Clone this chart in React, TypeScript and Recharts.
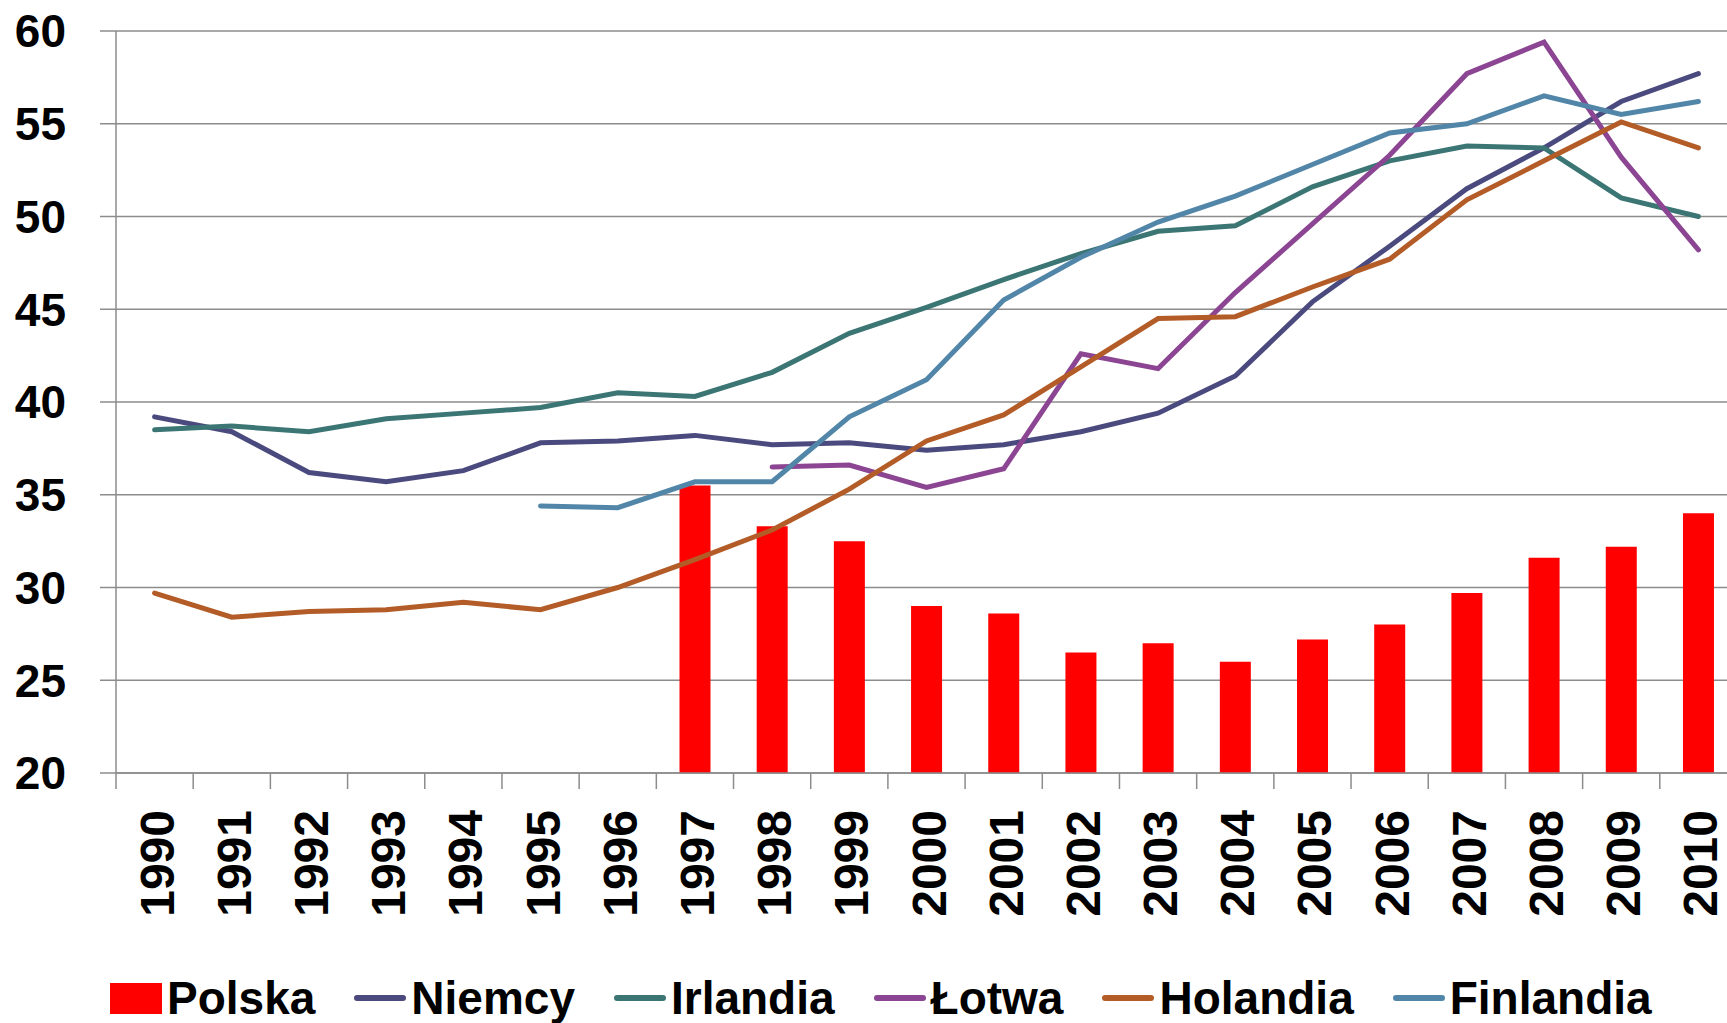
import { ComposedChart, Bar, Line, XAxis, YAxis, CartesianGrid, Legend } from "recharts";

const years = [
  "1990", "1991", "1992", "1993", "1994", "1995", "1996", "1997", "1998", "1999", "2000",
  "2001", "2002", "2003", "2004", "2005", "2006", "2007", "2008", "2009", "2010",
];

const polska = [
  null, null, null, null, null, null, null, 35.5, 33.3, 32.5, 29.0,
  28.6, 26.5, 27.0, 26.0, 27.2, 28.0, 29.7, 31.6, 32.2, 34.0,
];
const niemcy = [
  39.2, 38.4, 36.2, 35.7, 36.3, 37.8, 37.9, 38.2, 37.7, 37.8, 37.4,
  37.7, 38.4, 39.4, 41.4, 45.4, 48.4, 51.5, 53.7, 56.2, 57.7,
];
const irlandia = [
  38.5, 38.7, 38.4, 39.1, 39.4, 39.7, 40.5, 40.3, 41.6, 43.7, 45.1,
  46.6, 48.0, 49.2, 49.5, 51.6, 53.0, 53.8, 53.7, 51.0, 50.0,
];
const lotwa = [
  null, null, null, null, null, null, null, null, 36.5, 36.6, 35.4,
  36.4, 42.6, 41.8, 45.9, 49.6, 53.3, 57.7, 59.4, 53.2, 48.2,
];
const holandia = [
  29.7, 28.4, 28.7, 28.8, 29.2, 28.8, 30.0, 31.5, 33.1, 35.3, 37.9,
  39.3, 41.9, 44.5, 44.6, 46.2, 47.7, 50.9, 53.0, 55.1, 53.7,
];
const finlandia = [
  null, null, null, null, null, 34.4, 34.3, 35.7, 35.7, 39.2, 41.2,
  45.5, 47.8, 49.7, 51.1, 52.8, 54.5, 55.0, 56.5, 55.5, 56.2,
];

const yTicks = [20, 25, 30, 35, 40, 45, 50, 55, 60];
const seriesOrder = ["Polska", "Niemcy", "Irlandia", "Łotwa", "Holandia", "Finlandia"];

const data = years.map((year, i) => ({
  year,
  polska: polska[i],
  niemcy: niemcy[i],
  irlandia: irlandia[i],
  lotwa: lotwa[i],
  holandia: holandia[i],
  finlandia: finlandia[i],
}));

const FONT = '"Liberation Sans", Arial, sans-serif';
const GRID = "#8c8c8c";
const LINE_W = 5;

function YearTick(props: any) {
  const { x, y, payload } = props;
  const half = payload?.offset ?? 0;
  const ty = y + 37;
  return (
    <g>
      <line x1={x - half} x2={x - half} y1={y} y2={y + 16} stroke={GRID} strokeWidth={1.5} />
      <text
        x={x}
        y={ty}
        dy={19}
        transform={`rotate(-90 ${x} ${ty})`}
        textAnchor="end"
        fontFamily={FONT}
        fontWeight="bold"
        fontSize={48}
        fill="#000"
      >
        {payload.value}
      </text>
    </g>
  );
}

function LegendContent(props: any) {
  const items = [...(props.payload ?? [])].sort(
    (a: any, b: any) => seriesOrder.indexOf(a.value) - seriesOrder.indexOf(b.value)
  );
  return (
    <div
      style={{
        height: 100,
        boxSizing: "border-box",
        paddingTop: 50,
        paddingLeft: 110,
        display: "flex",
        alignItems: "center",
        fontFamily: FONT,
        fontWeight: "bold",
        fontSize: 46,
        lineHeight: "50px",
        whiteSpace: "nowrap",
      }}
    >
      {items.map((it: any) => (
        <div key={it.value} style={{ display: "flex", alignItems: "center", marginRight: 39 }}>
          {it.type === "line" ? (
            <div style={{ width: 52, height: 6, borderRadius: 3, background: it.color, flex: "none" }} />
          ) : (
            <div style={{ width: 52, height: 31, background: it.color, flex: "none" }} />
          )}
          <span style={{ marginLeft: 5, color: "#000" }}>{it.value}</span>
        </div>
      ))}
    </div>
  );
}

export default function App() {
  return (
    <div
      style={{
        position: "fixed",
        left: 0,
        top: 0,
        width: 1727,
        height: 1023,
        overflow: "hidden",
        background: "#fff",
        fontFamily: FONT,
      }}
    >
      <ComposedChart
        width={1737}
        height={1023}
        data={data}
        margin={{ top: 31, right: 0, left: 0, bottom: 0 }}
        barCategoryGap="30%"
      >
        <CartesianGrid vertical={false} stroke={GRID} strokeWidth={1.5} />
        <XAxis
          dataKey="year"
          height={150}
          axisLine={{ stroke: GRID, strokeWidth: 1.5 }}
          tickLine={false}
          tickSize={0}
          tickMargin={0}
          interval={0}
          tick={<YearTick />}
        />
        <YAxis
          width={116}
          domain={[20, 60]}
          ticks={yTicks}
          interval={0}
          axisLine={{ stroke: GRID, strokeWidth: 1.5 }}
          tickLine={{ stroke: GRID, strokeWidth: 1.5 }}
          tickSize={16}
          tickMargin={34}
          tick={{ fontFamily: FONT, fontWeight: "bold", fontSize: 46, fill: "#000" }}
        />
        <Legend verticalAlign="bottom" align="left" content={<LegendContent />} />
        <Bar dataKey="polska" name="Polska" fill="#ff0000" isAnimationActive={false} />
        <Line type="linear" dataKey="niemcy" name="Niemcy" stroke="#4b4a7e" strokeWidth={LINE_W} strokeLinecap="round" dot={false} activeDot={false} isAnimationActive={false} />
        <Line type="linear" dataKey="irlandia" name="Irlandia" stroke="#3b7674" strokeWidth={LINE_W} strokeLinecap="round" dot={false} activeDot={false} isAnimationActive={false} />
        <Line type="linear" dataKey="lotwa" name="Łotwa" stroke="#8c4592" strokeWidth={LINE_W} strokeLinecap="round" dot={false} activeDot={false} isAnimationActive={false} />
        <Line type="linear" dataKey="holandia" name="Holandia" stroke="#b35c27" strokeWidth={LINE_W} strokeLinecap="round" dot={false} activeDot={false} isAnimationActive={false} />
        <Line type="linear" dataKey="finlandia" name="Finlandia" stroke="#5286a8" strokeWidth={LINE_W} strokeLinecap="round" dot={false} activeDot={false} isAnimationActive={false} />
      </ComposedChart>
    </div>
  );
}
